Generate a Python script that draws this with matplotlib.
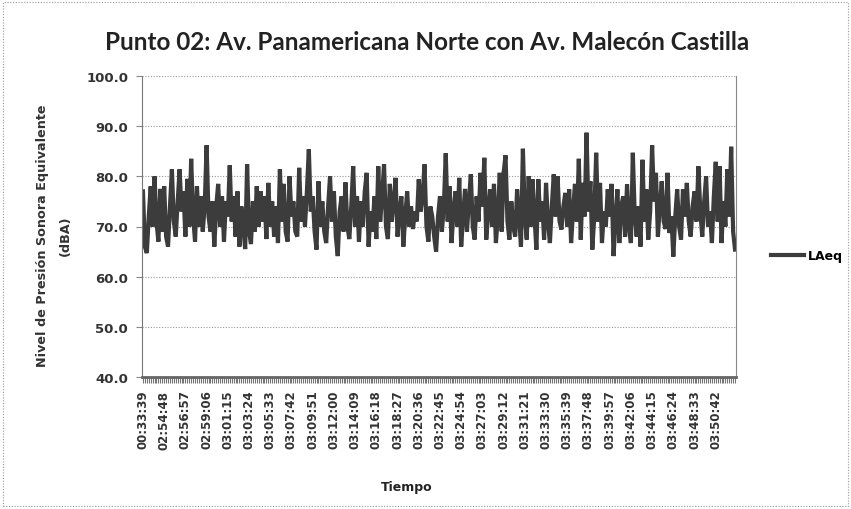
import matplotlib
matplotlib.use('Agg')
import matplotlib.pyplot as plt
from matplotlib.patches import Rectangle
import numpy as np

# LAeq readings (dBA), estimated from the chart, one per category step
laeq_1 = [77, 66, 64.7, 72, 78, 70, 80, 71, 67, 77.5, 69, 78, 68, 66, 74, 81.4, 71, 68, 75, 81.4,
          73, 77, 68, 79.5, 70, 83.5, 72, 67, 78, 70, 76, 69, 74, 86.2, 72, 69, 75, 66, 74, 78.5,
          70, 76, 67, 75, 72, 82.2, 71, 76, 68, 77, 66, 74, 70, 65.5, 82.4, 69, 66.5, 75, 69, 78,
          70, 77, 71]
laeq_2 = [76, 67.5, 78.7, 70, 75, 68, 74, 66.7, 81.4, 71, 78.5, 69, 67, 80, 72, 75, 69, 68, 81.7, 71,
          76, 70, 77, 85.4, 73, 76, 69, 65.4, 79, 70, 75, 69, 66.7, 74, 80, 71, 77, 68, 64.1, 73,
          76, 69, 78.8, 70, 67.5, 74, 82, 70, 76, 67, 75, 70, 77, 80.7, 66, 73, 69, 76, 67.5, 82,
          71, 76]
laeq_3 = [82.4, 70, 67.5, 78.5, 71, 75, 79.7, 68, 73, 76, 66, 72, 77, 70, 74, 69.5, 73, 71, 79.4, 73,
          76, 82.4, 70, 67, 74, 72, 68, 65, 72, 76, 69, 74, 84.6, 71, 78, 66.7, 73, 77, 70, 79.7,
          66, 72, 77.5, 69, 75, 80.4, 70, 67.4, 76, 71, 80.7, 74, 83.7, 67.4, 73, 77.4, 70, 78.5, 66.7, 72,
          80.7, 69]
laeq_4 = [80.7, 84.2, 71, 67.4, 75, 70, 68, 77.4, 72, 66, 85.5, 72, 67.4, 80, 70, 79.4, 72, 65.4, 79.4, 71,
          75, 67.4, 78.7, 71, 66.7, 74, 80.4, 72, 80, 71, 69.4, 74, 76.7, 70, 77.4, 66.7, 73, 78.5, 71, 83.5,
          67.4, 78.7, 72, 88.7, 73, 79, 65.4, 72, 84.7, 71, 78.7, 66.7, 73, 70, 77.4, 72, 78.5, 64.1, 71, 77.4,
          66.7, 74]
laeq_5 = [76, 68, 78.4, 70, 66.7, 84.7, 72, 68, 74, 66, 83.3, 71, 77.4, 67.4, 73, 86.2, 75, 80.7, 68, 74,
          79, 71, 69.5, 80.7, 68.7, 72, 64, 72, 77.4, 70, 67.4, 77.4, 72, 78.7, 71, 68, 74, 77, 71, 82,
          73, 68, 75, 80, 70, 73, 66.7, 76, 82.9, 71, 82, 66.7, 75, 70, 81.4, 72, 85.9, 69, 65.4]
laeq = laeq_1 + laeq_2 + laeq_3 + laeq_4 + laeq_5

time_labels = ["00:33:39", "02:54:48", "02:56:57", "02:59:06", "03:01:15", "03:03:24", "03:05:33",
               "03:07:42", "03:09:51", "03:12:00", "03:14:09", "03:16:18", "03:18:27", "03:20:36",
               "03:22:45", "03:24:54", "03:27:03", "03:29:12", "03:31:21", "03:33:30", "03:35:39",
               "03:37:48", "03:39:57", "03:42:06", "03:44:15", "03:46:24", "03:48:33", "03:50:42"]
label_step = 11

fig = plt.figure(figsize=(8.51, 5.10), dpi=100)
ax = fig.add_axes([142 / 851, 1 - 378 / 510, (736 - 142) / 851, (378 - 77) / 510])

x = np.arange(len(laeq))
ax.plot(x, laeq, color="#3c3c3c", linewidth=3.0, solid_joinstyle="miter", label="LAeq")

ax.set_xlim(-0.5, len(laeq) - 0.5)
ax.set_ylim(40, 100)
ax.set_yticks(np.arange(40, 101, 10))
ax.set_yticklabels([f"{v:.1f}" for v in range(40, 101, 10)], fontsize=9.5, fontweight="bold", color="#333333")
ax.set_xticks(np.arange(0, len(laeq), label_step)[:len(time_labels)])
ax.set_xticklabels(time_labels, rotation=90, fontsize=8.5, fontweight="bold", color="#333333")
ax.set_xticks(x, minor=True)
ax.tick_params(axis="x", which="both", length=4, width=0.8, color="#777777", pad=5)
ax.tick_params(axis="y", length=4, width=0.8, color="#888888", pad=6)

for v in range(50, 101, 10):
    ax.axhline(v, color="#999999", linewidth=0.8, linestyle=(0, (1, 1.5)), zorder=0)

ax.spines["top"].set_visible(False)
ax.spines["right"].set_color("#888888")
ax.spines["left"].set_color("#777777")
ax.spines["bottom"].set_color("#666666")
ax.spines["bottom"].set_linewidth(2)

fig.text(427 / 851, 1 - 42 / 510, "Punto 02: Av. Panamericana Norte con Av. Malecón Castilla",
         ha="center", va="center", fontsize=17.5, fontweight="bold", family="Lato", color="#222222")
fig.text(54 / 851, 1 - 236 / 510, "Nivel de Presión Sonora Equivalente\n(dBA)", rotation=90,
         ha="center", va="center", fontsize=9.2, fontweight="bold", color="#333333", linespacing=1.9)
fig.text(407 / 851, 1 - 487 / 510, "Tiempo", ha="center", va="center",
         fontsize=9, fontweight="bold", color="#222222")

fig.legend(loc="center left", bbox_to_anchor=(760 / 851, 1 - 257 / 510), frameon=False,
           prop={"weight": "bold", "size": 9}, handlelength=2.6, handletextpad=0.3)

fig.patches.append(Rectangle((3 / 851, 3 / 510), 845 / 851, 504 / 510, transform=fig.transFigure,
                             fill=False, edgecolor="#999999", linewidth=0.8, linestyle=(0, (1, 1.5))))

plt.savefig("out.png", dpi=100)
plt.close()
